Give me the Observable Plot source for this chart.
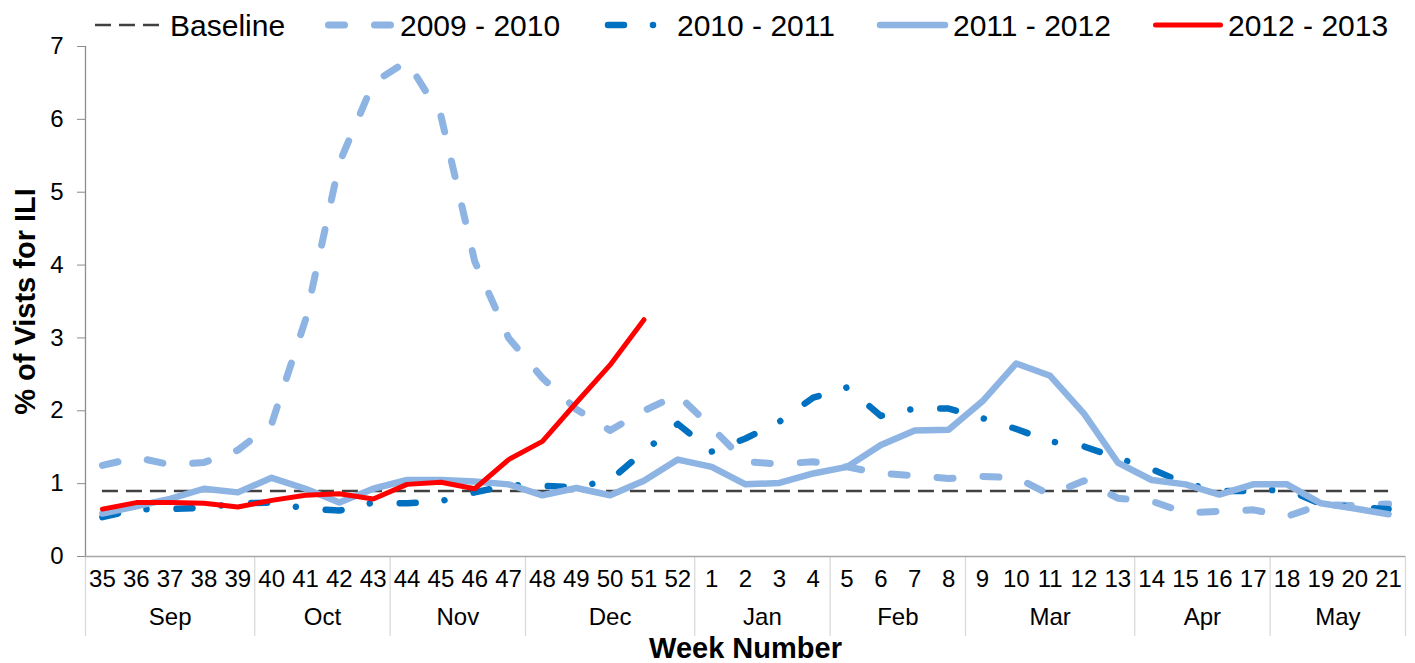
<!DOCTYPE html>
<html><head><meta charset="utf-8">
<script src="https://cdn.jsdelivr.net/npm/d3@7"></script>
<script src="https://cdn.jsdelivr.net/npm/@observablehq/plot@0.6"></script>
<style>
body{margin:0;background:#fff;font-family:Arial,"Liberation Sans",sans-serif;}
#legend{position:relative;width:1415px;height:40px;}
#legend span{position:absolute;top:11px;font-size:30px;line-height:30px;white-space:nowrap;color:#000}
#legend svg{position:absolute;left:0;top:0;overflow:visible}
</style></head><body>
<div id="legend"></div>
<div id="chart"></div>
<script>
// ---- data ----
const weeks = ["35","36","37","38","39","40","41","42","43","44","45","46","47","48","49","50","51","52",
  "1","2","3","4","5","6","7","8","9","10","11","12","13","14","15","16","17","18","19","20","21"];
const months = ["Sep","Oct","Nov","Dec","Jan","Feb","Mar","Apr","May"];
const monthWeekCounts = [5,4,4,5,4,4,5,4,4];
const baselineValue = 0.9;
const s2009 = [1.25,1.36,1.26,1.29,1.46,1.82,3.25,5.4,6.5,6.8,6.05,4.05,3.0,2.45,2.02,1.73,2.0,2.22,
  1.77,1.3,1.27,1.3,1.23,1.14,1.11,1.07,1.1,1.08,0.85,1.04,0.8,0.76,0.6,0.62,0.64,0.55,0.71,0.7,0.72];
const s2010 = [0.54,0.65,0.65,0.67,0.73,0.74,0.66,0.63,0.74,0.73,0.76,0.88,0.98,0.97,0.95,1.05,1.44,1.82,
  1.44,1.62,1.85,2.18,2.32,1.93,2.03,2.03,1.9,1.75,1.58,1.51,1.35,1.2,1.0,0.9,0.9,0.92,0.72,0.68,0.65];
const s2011 = [0.59,0.69,0.79,0.93,0.88,1.08,0.93,0.74,0.93,1.05,1.05,1.03,0.99,0.84,0.94,0.84,1.04,1.33,
  1.23,0.99,1.01,1.14,1.23,1.53,1.73,1.74,2.13,2.65,2.48,1.96,1.29,1.05,0.99,0.85,0.99,0.99,0.73,0.66,0.58];
const s2012 = [0.65,0.74,0.74,0.73,0.68,0.77,0.84,0.86,0.79,0.99,1.02,0.93,1.33,1.58,2.11,2.63,3.25];
const yTicks = [0,1,2,3,4,5,6,7];
const seriesNames = ["Baseline","2009 - 2010","2010 - 2011","2011 - 2012","2012 - 2013"];
const yTitle = "% of Vists for ILI";
const xTitle = "Week Number";

// ---- styles ----
const FONT = "Arial, 'Liberation Sans', sans-serif";
const LIGHT = "#8DB4E2", DARK = "#0070C0", RED = "#FF0000", BASE = "#404040";
const styles = [
  {stroke: BASE, strokeWidth: 2.5, strokeDasharray: "16,8", strokeLinecap: "butt"},
  {stroke: LIGHT, strokeWidth: 7, strokeDasharray: "16,30", strokeLinecap: "round"},
  {stroke: DARK, strokeWidth: 6.5, strokeDasharray: "16,29,0.01,30", strokeLinecap: "round"},
  {stroke: LIGHT, strokeWidth: 6.5, strokeLinecap: "round"},
  {stroke: RED, strokeWidth: 5, strokeLinecap: "round"}
];
// legend layout: [sample x1, sample x2, text x]
const legendLayout = [[95,162,170],[328.5,391,400],[608,656,677],[880,945,953],[1155.5,1220.5,1228]];

// ---- legend ----
const leg = document.getElementById("legend");
seriesNames.forEach((name, k) => {
  const [x1, x2, tx] = legendLayout[k];
  const st = styles[k];
  const svg = document.createElementNS("http://www.w3.org/2000/svg","svg");
  svg.setAttribute("width", 1415); svg.setAttribute("height", 40);
  const ln = document.createElementNS("http://www.w3.org/2000/svg","line");
  ln.setAttribute("x1", x1); ln.setAttribute("x2", x2);
  ln.setAttribute("y1", 25); ln.setAttribute("y2", 25);
  ln.setAttribute("stroke", st.stroke);
  ln.setAttribute("stroke-width", st.strokeWidth);
  ln.setAttribute("stroke-linecap", st.strokeLinecap);
  if (st.strokeDasharray) ln.setAttribute("stroke-dasharray", st.strokeDasharray);
  svg.appendChild(ln);
  leg.appendChild(svg);
  const sp = document.createElement("span");
  sp.textContent = name; sp.style.left = tx + "px";
  leg.appendChild(sp);
});

// ---- chart ----
const toRows = vals => vals.map((v, i) => ({i, v}));
let acc = 0;
const monthInfo = months.map((m, k) => {
  const s = acc; acc += monthWeekCounts[k];
  return {m, center: (s + acc - 1) / 2, right: acc - 0.5};
});
const boundaries = [-0.5, ...monthInfo.map(d => d.right)];

const W = 1415, H = 623, mT = 6, mB = 107, mL = 85, mR = 10;
const unitPx = (H - mT - mB) / 7;
const below = 80 / unitPx;

const lineOpts = k => ({x: "i", y: "v", strokeLinejoin: "round", ...styles[k]});

const chart = Plot.plot({
  width: W, height: H, marginTop: mT, marginBottom: mB, marginLeft: mL, marginRight: mR,
  style: {fontFamily: FONT, fontSize: "24px", color: "black", background: "white", overflow: "visible"},
  x: {type: "linear", domain: [-0.5, weeks.length - 0.5], axis: null},
  y: {domain: [0, 7], axis: null},
  marks: [
    Plot.ruleX(boundaries, {x: d => d, y1: 0, y2: -below, stroke: "#d9d9d9", strokeWidth: 1.3}),
    Plot.ruleX([-0.5], {stroke: "#8c8c8c", strokeWidth: 1.3}),
    Plot.ruleY([0], {stroke: "#a6a6a6", strokeWidth: 1.3}),
    Plot.axisY(yTicks, {anchor: "left", tickSize: 8, tickPadding: 14, fontSize: 24, stroke: "#8c8c8c", fill: "black", label: null, tickFormat: d => String(d)}),
    Plot.text(weeks, {x: (d, i) => i, y: () => 0, dy: 23, text: d => d, fontSize: 24, fill: "black"}),
    Plot.text(monthInfo, {x: "center", y: () => 0, dy: 61, text: "m", fontSize: 24, fill: "black"}),
    Plot.text([yTitle], {frameAnchor: "left", rotate: -90, dx: -60, text: d => d, fontSize: 29, fontWeight: "bold", textAnchor: "middle", lineAnchor: "middle", fill: "black"}),
    Plot.text([xTitle], {frameAnchor: "bottom", dy: 92, text: d => d, fontSize: 29, fontWeight: "bold", textAnchor: "middle", lineAnchor: "middle", fill: "black"}),
    Plot.ruleY([baselineValue], {x1: 0, x2: weeks.length - 1, ...styles[0]}),
    Plot.line(toRows(s2009), lineOpts(1)),
    Plot.line(toRows(s2010), lineOpts(2)),
    Plot.line(toRows(s2011), lineOpts(3)),
    Plot.line(toRows(s2012), lineOpts(4))
  ]
});
document.getElementById("chart").appendChild(chart);
</script>
</body></html>
